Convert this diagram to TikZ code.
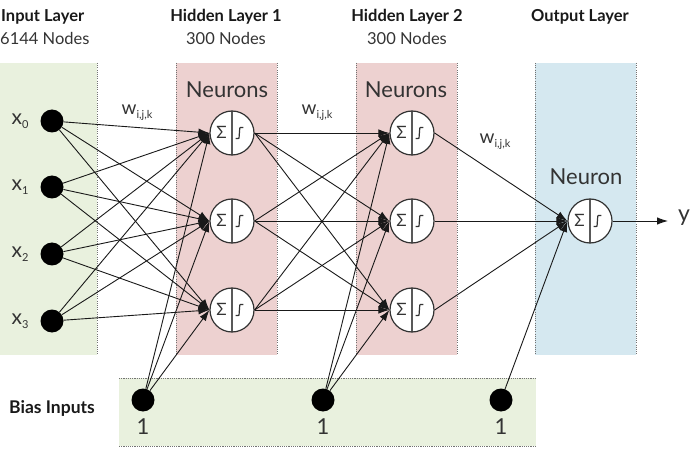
\documentclass[tikz,border=0pt]{standalone}
\usepackage{fontspec}
\setmainfont{Lato}
\usetikzlibrary{arrows.meta}

\definecolor{inputgreen}{HTML}{E9F1DE}
\definecolor{hiddenpink}{HTML}{EDD1D0}
\definecolor{outblue}{HTML}{D5E8F0}
\newcommand{\lowidx}[1]{\raisebox{-0.4ex}{\fontsize{11}{11}\selectfont #1}}

\begin{document}
\begin{tikzpicture}[x=1pt,y=-1pt,
  wire/.style={-{Latex[length=11pt,width=7.5pt]},line width=0.9pt,draw=black!90},
  sep/.style={draw=black!55,line width=1pt,dash pattern=on 1.1pt off 1.1pt},
  dot/.style={circle,fill=black,minimum size=23pt,inner sep=0pt},
  neuron/.style={circle,draw=black!80,line width=1.2pt,fill=white,minimum size=44pt,inner sep=0pt,
    path picture={
      \draw[black!65,line width=1.1pt] (path picture bounding box.north) -- (path picture bounding box.south);
      \node[font=\fontsize{17}{17}\selectfont,text=black!80] at ([xshift=-10.5pt,yshift=0.5pt]path picture bounding box.center) {Σ};
      \draw[black!80,line width=1.2pt,rounded corners=0.6pt] ([xshift=3.5pt,yshift=-5.5pt]path picture bounding box.center)
        -- ++(3.5,0) -- ++(0.8,-11) -- ++(3.5,0);
    }},
  head/.style={font=\bfseries\fontsize{16.5}{18}\selectfont,text=black!90},
  count/.style={font=\fontsize{16.5}{18}\selectfont,text=black!80},
  label/.style={font=\fontsize{21}{23}\selectfont,text=black!80},
]
\useasboundingbox (0,0) rectangle (697,476);
% layer panels
\fill[inputgreen] (0,63) rectangle (97,355);
\draw[sep] (97,63) -- (97,355);
\fill[hiddenpink] (176,63) rectangle (277,355);
\draw[sep] (176,63) -- (176,355) (277,63) -- (277,355);
\fill[hiddenpink] (356,63) rectangle (457,355);
\draw[sep] (356,63) -- (356,355) (457,63) -- (457,355);
\fill[outblue] (535,63) rectangle (636,355);
\draw[sep] (535,63) -- (535,355) (636,63) -- (636,355);
\fill[inputgreen] (119,378) rectangle (536,446);
\draw[sep] (119,378) -- (536,378) (119,446) -- (536,446);

\node[head,anchor=west,inner sep=1pt] (tin) at (0,17) {Input Layer};
\node[count,anchor=west,inner sep=0pt] (nin) at (0,38) {6144 Nodes};
\node[head] (th1) at (226,17) {Hidden Layer 1};
\node[count] (nh1) at (226,38) {300 Nodes};
\node[head] (th2) at (407,17) {Hidden Layer 2};
\node[count] (nh2) at (407,38) {300 Nodes};
\node[head] (tout) at (580,17) {Output Layer};

\node[label,font=\fontsize{22}{24}\selectfont] (lh1) at (227,90) {Neurons};
\node[label,font=\fontsize{22}{24}\selectfont] (lh2) at (406,90) {Neurons};
\node[label,font=\fontsize{22}{24}\selectfont] (lout) at (586,177) {Neuron};

\node[label,font=\fontsize{19}{21}\selectfont] (w1) at (137,113) {w\lowidx{i,j,k}};
\node[label,font=\fontsize{19}{21}\selectfont] (w2) at (317,113) {w\lowidx{i,j,k}};
\node[label,font=\fontsize{19}{21}\selectfont] (w3) at (495,142) {w\lowidx{i,j,k}};

% inputs
\foreach \i/\y in {0/121,1/187,2/254,3/321}{
  \node[dot] (in\i) at (52,\y) {};
  \node[label] (x\i) at (20,\y) {x\lowidx{\i}};
}
% neurons
\foreach \j/\y in {1/133,2/221,3/310}{
  \node[neuron] (ha\j) at (232,\y) {};
  \node[neuron] (hb\j) at (412,\y) {};
}
\node[neuron] (out) at (590,221) {};
\node[label,anchor=west,inner sep=0pt,font=\fontsize{23}{25}\selectfont] (yout) at (668,218) {\hspace{10pt}y};

% bias inputs
\node[head,font=\bfseries\fontsize{17.5}{19}\selectfont] (tbias) at (52,408) {Bias Inputs};
\foreach \k/\x in {1/143,2/323,3/501}{
  \node[dot] (bias\k) at (\x,400) {};
  \node[label,font=\fontsize{22}{24}\selectfont] (one\k) at (\x,427) {1};
}

% connections
\foreach \i in {0,...,3}
  \foreach \j in {1,2,3}
    \draw[wire] (in\i) -- (ha\j.west);
\foreach \i in {1,2,3}
  \foreach \j in {1,2,3}
    \draw[wire] (ha\i.east) -- (hb\j.west);
\foreach \j in {1,2,3}{
  \draw[wire] (hb\j.east) -- (out.west);
  \draw[wire] (bias1) -- (ha\j.west);
  \draw[wire] (bias2) -- (hb\j.west);
}
\draw[wire] (bias3) -- (out.west);
\draw[wire] (out.east) -- (out.east -| yout.west);
\end{tikzpicture}
\end{document}
